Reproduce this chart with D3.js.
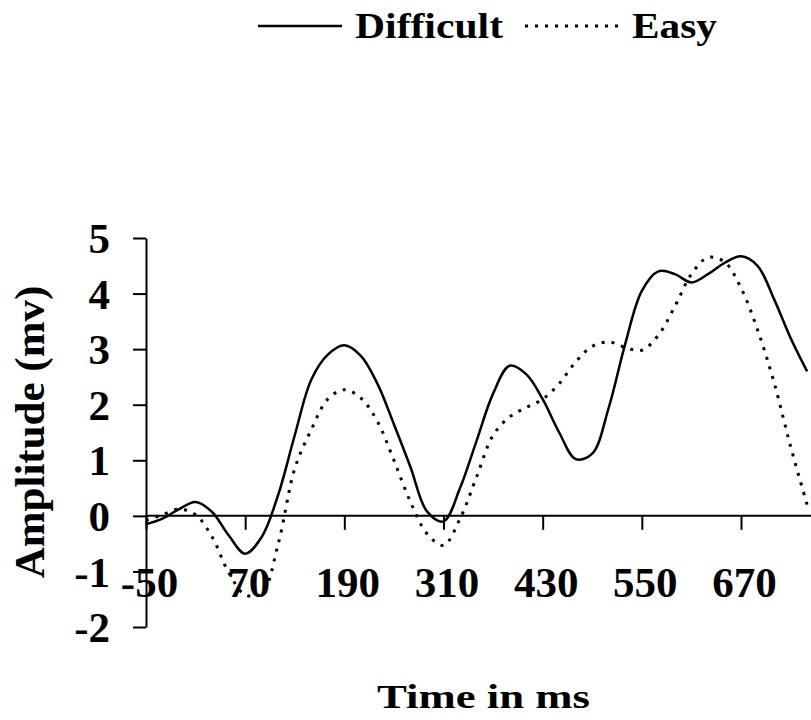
<!DOCTYPE html>
<html lang="en">
<head>
  <meta charset="utf-8">
  <title>Amplitude over time</title>
  <script src="https://cdn.jsdelivr.net/npm/d3@7"></script>
  <style>
    body { margin: 0; background: #fff; }
    svg text { font-family: "Liberation Serif", "Times New Roman", serif; font-weight: bold; fill: #000; }
    .axis line, .axis path { stroke: #000; stroke-width: 2px; }
  </style>
</head>
<body>
<div id="chart"></div>
<script>
  // time points (ms)
  var times = [-50, -30, -10, 10, 30, 50, 70, 90, 110, 130, 150, 170, 190, 210, 230, 250, 270, 290, 310, 330,
               350, 370, 390, 410, 430, 450, 470, 490, 510, 530, 550, 570, 590, 610, 630, 650, 670, 690, 710, 730, 750];

  var difficult = [-0.15, -0.05, 0.12, 0.25, 0.07, -0.35, -0.68, -0.38, 0.38, 1.45, 2.45, 2.9, 3.07, 2.88, 2.38, 1.65, 0.88, 0.08, -0.1, 0.5,
                   1.35, 2.2, 2.7, 2.55, 2.1, 1.5, 1.02, 1.12, 1.95, 3.1, 4.05, 4.4, 4.35, 4.2, 4.35, 4.55, 4.67, 4.5, 3.9, 3.2, 2.6];

  var easy = [-0.08, 0.02, 0.12, 0.02, -0.38, -1.02, -1.42, -1.4, -0.5, 0.85, 1.55, 2.1, 2.27, 2.12, 1.7, 1.0, 0.25, -0.32, -0.53, -0.05,
              0.7, 1.45, 1.78, 1.95, 2.1, 2.38, 2.77, 3.05, 3.13, 3.03, 2.98, 3.25, 3.77, 4.35, 4.65, 4.57, 4.1, 3.35, 2.4, 1.25, 0.2];

  var xTicks = [-50, 70, 190, 310, 430, 550, 670];
  var yTicks = [-2, -1, 0, 1, 2, 3, 4, 5];

  var width = 811, height = 720;

  var svg = d3.select("#chart").append("svg")
      .attr("width", width)
      .attr("height", height);

  var x = d3.scaleLinear().domain([-50, 670]).range([146, 741]);
  var y = d3.scaleLinear().domain([-2, 5]).range([627, 238]);

  // y axis
  svg.append("g")
      .attr("class", "axis")
      .attr("transform", "translate(146,0)")
      .call(d3.axisLeft(y).tickValues(yTicks).tickSize(13).tickSizeOuter(0)
            .tickFormat(function(d) { return String(d); }))
      .call(function(g) {
        g.selectAll("text")
          .attr("x", -36)
          .attr("dy", "0.34em")
          .style("font-size", "43px");
      });

  // x axis (line runs past the last tick to the edge)
  var xg = svg.append("g")
      .attr("class", "axis")
      .attr("transform", "translate(0," + y(0) + ")")
      .call(d3.axisBottom(x).tickValues(xTicks).tickSize(14).tickSizeOuter(0)
            .tickFormat(function(d) { return String(d); }));
  xg.select(".domain").remove();
  xg.append("line").attr("x1", 146).attr("x2", width).attr("y1", 0).attr("y2", 0);
  xg.selectAll("text")
      .attr("y", 81)
      .attr("dy", 0)
      .attr("dx", 3)
      .style("font-size", "43px");

  var line = function(vals) {
    return d3.line()
      .x(function(d, i) { return x(times[i]); })
      .y(function(d) { return y(d); })
      .curve(d3.curveCatmullRom.alpha(0.5))(vals);
  };

  svg.append("path")
      .attr("d", line(easy))
      .attr("fill", "none")
      .attr("stroke", "#000")
      .attr("stroke-width", 3)
      .attr("stroke-dasharray", "3,7");

  svg.append("path")
      .attr("d", line(difficult))
      .attr("fill", "none")
      .attr("stroke", "#000")
      .attr("stroke-width", 2.5);

  // axis titles
  svg.append("text")
      .attr("transform", "translate(44,432) rotate(-90)")
      .attr("text-anchor", "middle")
      .style("font-size", "43px")
      .text("Amplitude (mv)");

  svg.append("text")
      .attr("x", 377)
      .attr("y", 708)
      .attr("textLength", 213)
      .attr("lengthAdjust", "spacingAndGlyphs")
      .style("font-size", "33px")
      .text("Time in ms");

  // legend
  svg.append("line")
      .attr("x1", 258).attr("x2", 342).attr("y1", 26).attr("y2", 26)
      .attr("stroke", "#000").attr("stroke-width", 2.5);
  svg.append("text")
      .attr("x", 355).attr("y", 38)
      .attr("textLength", 148)
      .attr("lengthAdjust", "spacingAndGlyphs")
      .style("font-size", "35px")
      .text("Difficult");
  svg.append("line")
      .attr("x1", 525).attr("x2", 618).attr("y1", 26).attr("y2", 26)
      .attr("stroke", "#000").attr("stroke-width", 3)
      .attr("stroke-dasharray", "3,7");
  svg.append("text")
      .attr("x", 632).attr("y", 38)
      .attr("textLength", 85)
      .attr("lengthAdjust", "spacingAndGlyphs")
      .style("font-size", "35px")
      .text("Easy");
</script>
</body>
</html>
